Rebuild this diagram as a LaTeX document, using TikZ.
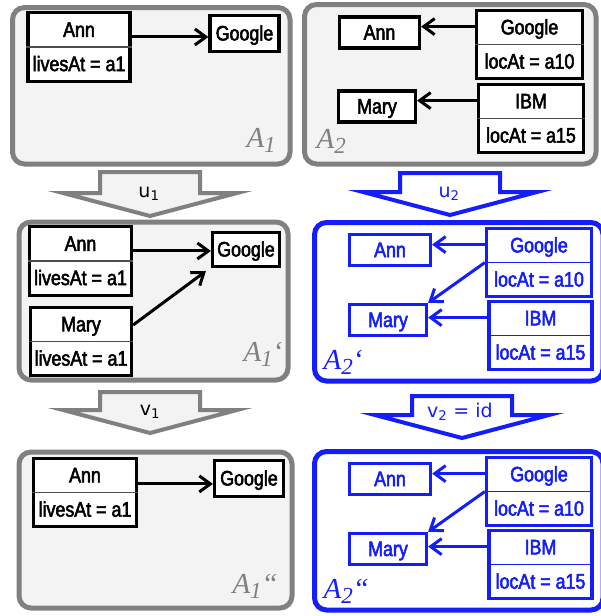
\documentclass[tikz,border=0pt]{standalone}
\usepackage{fontspec}
\setmainfont{Liberation Sans}[FakeStretch=0.85, FakeBold=2.5]
\newfontfamily\arrfont{DejaVu Sans}
\newfontfamily\capfont{Liberation Serif}
\usetikzlibrary{positioning}
\usetikzlibrary{arrows.meta}
\usetikzlibrary{calc}
\usetikzlibrary{shapes.multipart}

\definecolor{frameg}{RGB}{128,128,128}
\definecolor{fillg}{RGB}{243,243,243}
\definecolor{tblue}{RGB}{20,30,250}

\tikzset{
	panelg/.style={draw=frameg, line width=5pt, rounded corners=12pt, fill=fillg},
	panelb/.style={draw=tblue, line width=5pt, rounded corners=12pt, fill=white},
	objbox/.style={draw, line width=3.2pt, fill=white, inner xsep=3pt, inner ysep=2pt, font=\fontsize{21}{24}\selectfont},
	splitbox/.style={objbox, rectangle split, rectangle split parts=2, rectangle split draw splits=false},
	conn/.style={-{Straight Barb[length=11pt,width=16pt]}, line width=3pt},
	bigarrg/.style={draw=frameg, line width=4pt, fill=fillg},
	bigarrb/.style={draw=tblue, line width=4pt, fill=white},
	arrlab/.style={font=\arrfont\fontsize{19}{22}\selectfont, anchor=base},
	mlab/.style={font=\capfont\itshape\fontsize{29}{32}\selectfont, text=frameg, anchor=base west},
}

\begin{document}
\begin{tikzpicture}[x=1pt, y=-1pt]
			% strut for the box texts, and the big subscript of the labels
			\def\st{\rule[-6.5pt]{0pt}{27pt}}
			\def\lsub#1{\raisebox{-5pt}{\fontsize{23}{23}\selectfont #1}}
			\useasboundingbox (0,0) rectangle (600,616);

			% A1
			\draw[panelg] (12.5,7.5) rectangle (290,164);
			\node[splitbox, minimum width=102pt] (ann1) at (79,47) {\st Ann \nodepart{two}\st livesAt = a1};
			\node[objbox, minimum width=69pt, minimum height=36pt] (google1) at (244.5,33.5) {\st Google};
			\node[mlab] (lab1) at (243,147) {A\lsub{1}};
			\draw[conn] ($(ann1.north east)!.36!(ann1.south east)$) coordinate (a1) -- (a1 -| google1.west);

			% A2
			\draw[panelg] (304.5,4.5) rectangle (596,164);
			\node[objbox, minimum width=80pt] (ann2) at (379.5,32.5) {\st Ann};
			\node[splitbox, minimum width=106pt] (google2) at (529.5,44.5) {\st Google \nodepart{two}\st locAt = a10};
			\node[objbox, minimum width=77pt] (mary2) at (377,106.5) {\st Mary};
			\node[splitbox, minimum width=105pt] (ibm2) at (531,118.5) {\st IBM \nodepart{two}\st locAt = a15};
			\node[mlab] (lab2) at (313,148) {A\lsub{2}};
			\draw[conn] ($(google2.north west)!.25!(google2.south west)$) coordinate (g2) -- (g2 -| ann2.east);
			\draw[conn] ($(ibm2.north west)!.25!(ibm2.south west)$) coordinate (i2) -- (i2 -| mary2.east);

			% A1'
			\draw[panelg] (19,222) rectangle (288,380);
			\node[splitbox, minimum width=102pt] (ann3) at (80.5,261) {\st Ann \nodepart{two}\st livesAt = a1};
			\node[objbox, minimum width=67pt, minimum height=34pt] (google3) at (246,249.5) {\st Google};
			\node[splitbox, minimum width=101pt] (mary3) at (81,341.5) {\st Mary \nodepart{two}\st livesAt = a1};
			\node[mlab] (lab3) at (240,361) {A\lsub{1}‘};
			\draw[conn] ($(ann3.north east)!.36!(ann3.south east)$) coordinate (a3) -- (a3 -| google3.west);
			\draw[conn] ($(mary3.north east)!.27!(mary3.south east)$) -- ($(google3.south west)+(-5,3)$);

			% A1''
			\draw[panelg] (19,452) rectangle (292,608);
			\node[splitbox, minimum width=103pt] (ann5) at (85,492.5) {\st Ann \nodepart{two}\st livesAt = a1};
			\node[objbox, minimum width=69pt, minimum height=36pt] (google5) at (249,478.5) {\st Google};
			\node[mlab] (lab5) at (229,593) {A\lsub{1}“};
			\draw[conn] ($(ann5.north east)!.38!(ann5.south east)$) coordinate (a5) -- (a5 -| google5.west);

			% thin split lines
			\foreach \b in {ann1,google2,ibm2,ann3,mary3,ann5}
				{\draw[line width=1.2pt, black!70] (\b.text split west) -- (\b.text split east);}

			% A2' and A2''
			\foreach \n/\dy/\q in {4/0/‘,6/229/“}{
				\begin{scope}[color=tblue]
				\draw[panelb] (314.5,222.5+\dy) rectangle (603,381+\dy);
				\node[objbox, minimum width=81pt] (ann\n) at (390,250+\dy) {\st Ann};
				\node[splitbox, minimum width=105pt] (google\n) at (539,262.5+\dy) {\st Google \nodepart{two}\st locAt = a10};
				\node[objbox, minimum width=77pt] (mary\n) at (388,320+\dy) {\st Mary};
				\node[splitbox, minimum width=103pt] (ibm\n) at (540.5,335.5+\dy) {\st IBM \nodepart{two}\st locAt = a15};
				\node[mlab, text=tblue] (lab\n) at (320,369+\dy) {A\lsub{2}\q};
				\draw[line width=1.2pt] (google\n.text split west) -- (google\n.text split east);
				\draw[line width=1.2pt] (ibm\n.text split west) -- (ibm\n.text split east);
				\draw[conn] ($(google\n.north west)!.25!(google\n.south west)$) coordinate (g\n) -- (g\n -| ann\n.east);
				\draw[conn] (google\n.west) -- (mary\n.north east);
				\draw[conn] ($(ibm\n.north west)!.25!(ibm\n.south west)$) coordinate (i\n) -- (i\n -| mary\n.east);
				\end{scope}
			}

			% block arrows between the panels
			\foreach \cx/\yt/\yb/\yp/\sty in {150/172/193/216/bigarrg, 450/173/192/215/bigarrb, 150/392/410/433/bigarrg, 462/396/415/438/bigarrb}
				{\draw[\sty] (\cx-50,\yt) -- (\cx+50,\yt) -- (\cx+50,\yb) -- (\cx+87,\yb) -- (\cx,\yp) -- (\cx-87,\yb) -- (\cx-50,\yb) -- cycle;}
			\node[arrlab] (u1) at (149,197) {u\textsubscript{1}};
			\node[arrlab, text=tblue] (u2) at (449,197) {u\textsubscript{2}};
			\node[arrlab] (v1) at (150,415) {v\textsubscript{1}};
			\node[arrlab, text=tblue] (v2) at (460,417) {v\textsubscript{2} = id};
		\end{tikzpicture}
\end{document}
